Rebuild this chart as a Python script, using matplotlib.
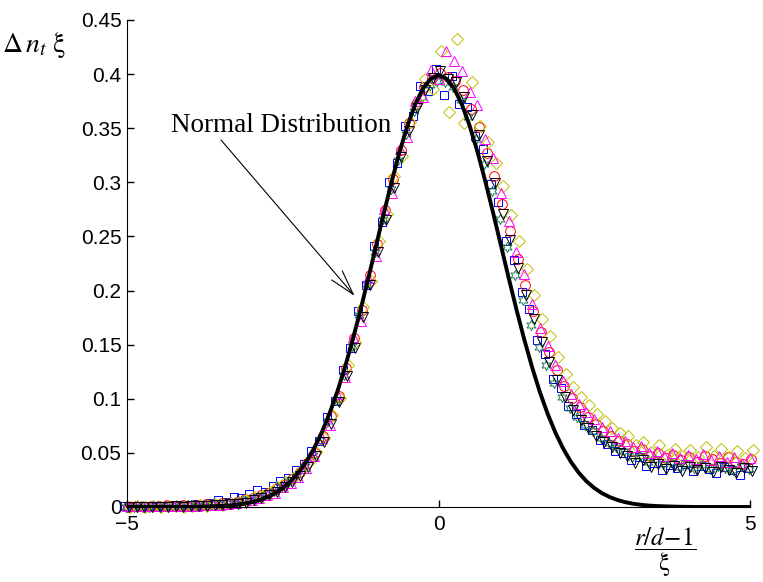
import numpy as np
import matplotlib
matplotlib.use("Agg")
import matplotlib.pyplot as plt

plt.rcParams['mathtext.fontset'] = 'stix'

# bin centres (r/d-1)/xi shared by the data sets
x_bins = [-5.0, -4.875, -4.75, -4.625, -4.5, -4.375, -4.25, -4.125,
          -4.0, -3.875, -3.75, -3.625, -3.5, -3.375, -3.25, -3.125,
          -3.0, -2.875, -2.75, -2.625, -2.5, -2.375, -2.25, -2.125,
          -2.0, -1.875, -1.75, -1.625, -1.5, -1.375, -1.25, -1.125,
          -1.0, -0.875, -0.75, -0.625, -0.5, -0.375, -0.25, -0.125,
          0.0, 0.125, 0.25, 0.375, 0.5, 0.625, 0.75, 0.875,
          1.0, 1.125, 1.25, 1.375, 1.5, 1.625, 1.75, 1.875,
          2.0, 2.125, 2.25, 2.375, 2.5, 2.625, 2.75, 2.875,
          3.0, 3.125, 3.25, 3.375, 3.5, 3.625, 3.75, 3.875,
          4.0, 4.125, 4.25, 4.375, 4.5, 4.625, 4.75, 4.875, 5.0]

y_blue = [0.001, 0.000, 0.001, 0.001, 0.000, 0.001, 0.002, 0.001,
          0.002, 0.003, 0.002, 0.004, 0.006, 0.005, 0.009, 0.008,
          0.012, 0.016, 0.014, 0.019, 0.024, 0.027, 0.034, 0.040,
          0.052, 0.061, 0.083, 0.098, 0.127, 0.147, 0.181, 0.205,
          0.241, 0.263, 0.300, 0.318, 0.352, 0.361, 0.389, 0.384,
          0.405, 0.381, 0.398, 0.372, 0.370, 0.343, 0.331, 0.298,
          0.282, 0.246, 0.228, 0.199, 0.183, 0.154, 0.141, 0.118,
          0.110, 0.093, 0.086, 0.076, 0.071, 0.062, 0.058, 0.052,
          0.050, 0.043, 0.046, 0.038, 0.041, 0.034, 0.039, 0.036,
          0.040, 0.033, 0.038, 0.035, 0.031, 0.037, 0.034, 0.030, 0.036]

y_red = [0.000, 0.001, 0.000, 0.001, 0.001, 0.002, 0.001, 0.002,
         0.001, 0.002, 0.003, 0.002, 0.004, 0.003, 0.005, 0.007,
         0.008, 0.011, 0.013, 0.017, 0.020, 0.026, 0.032, 0.041,
         0.050, 0.066, 0.084, 0.103, 0.128, 0.156, 0.182, 0.214,
         0.243, 0.274, 0.303, 0.330, 0.355, 0.372, 0.388, 0.396,
         0.401, 0.397, 0.394, 0.385, 0.368, 0.351, 0.327, 0.306,
         0.280, 0.255, 0.229, 0.205, 0.181, 0.162, 0.143, 0.127,
         0.112, 0.101, 0.092, 0.083, 0.077, 0.070, 0.066, 0.061,
         0.058, 0.052, 0.054, 0.047, 0.050, 0.045, 0.048, 0.043,
         0.046, 0.042, 0.047, 0.044, 0.041, 0.046, 0.042, 0.040, 0.044]

y_green = [0.000, 0.000, 0.001, 0.000, 0.001, 0.001, 0.001, 0.001,
           0.002, 0.001, 0.002, 0.003, 0.003, 0.004, 0.004, 0.006,
           0.007, 0.009, 0.012, 0.015, 0.019, 0.024, 0.030, 0.038,
           0.048, 0.062, 0.079, 0.099, 0.122, 0.149, 0.177, 0.206,
           0.236, 0.266, 0.294, 0.321, 0.345, 0.366, 0.379, 0.390,
           0.394, 0.393, 0.388, 0.376, 0.360, 0.340, 0.317, 0.292,
           0.266, 0.240, 0.214, 0.191, 0.168, 0.148, 0.131, 0.115,
           0.102, 0.091, 0.083, 0.076, 0.070, 0.064, 0.059, 0.055,
           0.052, 0.046, 0.047, 0.042, 0.044, 0.040, 0.042, 0.037,
           0.040, 0.036, 0.039, 0.035, 0.038, 0.036, 0.034, 0.038, 0.035]

y_magenta = [0.001, 0.001, 0.001, 0.001, 0.001, 0.001, 0.001, 0.001,
             0.001, 0.001, 0.002, 0.002, 0.002, 0.003, 0.004, 0.005,
             0.006, 0.008, 0.011, 0.013, 0.018, 0.022, 0.028, 0.036,
             0.047, 0.064, 0.076, 0.104, 0.120, 0.157, 0.172, 0.212,
             0.232, 0.275, 0.290, 0.331, 0.342, 0.375, 0.379, 0.404,
             0.395, 0.421, 0.412, 0.403, 0.383, 0.371, 0.340, 0.322,
             0.290, 0.264, 0.236, 0.215, 0.188, 0.165, 0.149, 0.131,
             0.116, 0.104, 0.095, 0.088, 0.081, 0.074, 0.070, 0.064,
             0.061, 0.055, 0.056, 0.050, 0.052, 0.047, 0.050, 0.045,
             0.048, 0.044, 0.049, 0.043, 0.047, 0.042, 0.046, 0.041, 0.045]

y_olive = [0.000, 0.001, 0.000, 0.001, 0.000, 0.001, 0.001, 0.000,
           0.001, 0.002, 0.001, 0.003, 0.002, 0.004, 0.005, 0.006,
           0.009, 0.010, 0.014, 0.018, 0.023, 0.027, 0.033, 0.042,
           0.051, 0.064, 0.085, 0.101, 0.131, 0.152, 0.185, 0.209,
           0.246, 0.271, 0.306, 0.324, 0.356, 0.374, 0.395, 0.386,
           0.421, 0.365, 0.432, 0.355, 0.393, 0.352, 0.337, 0.318,
           0.297, 0.270, 0.246, 0.220, 0.196, 0.174, 0.158, 0.139,
           0.123, 0.111, 0.102, 0.094, 0.086, 0.079, 0.073, 0.068,
           0.066, 0.057, 0.060, 0.051, 0.057, 0.048, 0.054, 0.047,
           0.053, 0.046, 0.055, 0.047, 0.054, 0.046, 0.052, 0.045, 0.053]

y_black = [0.000, 0.000, 0.000, 0.000, 0.000, 0.000, 0.001, 0.000,
           0.001, 0.001, 0.001, 0.002, 0.002, 0.003, 0.003, 0.004,
           0.006, 0.008, 0.011, 0.014, 0.018, 0.023, 0.029, 0.037,
           0.047, 0.060, 0.077, 0.097, 0.121, 0.147, 0.176, 0.205,
           0.236, 0.265, 0.295, 0.323, 0.347, 0.369, 0.385, 0.396,
           0.403, 0.395, 0.393, 0.379, 0.362, 0.344, 0.320, 0.299,
           0.271, 0.247, 0.221, 0.196, 0.174, 0.152, 0.134, 0.117,
           0.102, 0.090, 0.080, 0.073, 0.066, 0.060, 0.055, 0.050,
           0.047, 0.041, 0.043, 0.037, 0.040, 0.035, 0.038, 0.033,
           0.037, 0.034, 0.036, 0.032, 0.037, 0.034, 0.031, 0.036, 0.033]

# each data set sits on slightly different bin centres
bin_offsets = {'blue': -0.04, 'red': 0.02, 'green': -0.02,
               'olive': 0.04, 'magenta': 0.0, 'black': 0.03}

# standard normal density, read on the same bins
y_normal = [0.0000, 0.0000, 0.0000, 0.0000, 0.0000, 0.0000, 0.0000, 0.0000,
            0.0001, 0.0002, 0.0004, 0.0006, 0.0009, 0.0013, 0.0020, 0.0030,
            0.0044, 0.0064, 0.0091, 0.0127, 0.0175, 0.0237, 0.0317, 0.0417,
            0.0540, 0.0688, 0.0863, 0.1065, 0.1295, 0.1550, 0.1826, 0.2119,
            0.2420, 0.2721, 0.3011, 0.3282, 0.3521, 0.3719, 0.3867, 0.3958,
            0.3989, 0.3958, 0.3867, 0.3719, 0.3521, 0.3282, 0.3011, 0.2721,
            0.2420, 0.2119, 0.1826, 0.1550, 0.1295, 0.1065, 0.0863, 0.0688,
            0.0540, 0.0417, 0.0317, 0.0237, 0.0175, 0.0127, 0.0091, 0.0064,
            0.0044, 0.0030, 0.0020, 0.0013, 0.0009, 0.0006, 0.0004, 0.0002,
            0.0001, 0.0000, 0.0000, 0.0000, 0.0000, 0.0000, 0.0000, 0.0000, 0.0000]

yticks = [0, 0.05, 0.1, 0.15, 0.2, 0.25, 0.3, 0.35, 0.4, 0.45]
yticklabels = ['0', '0.05', '0.1', '0.15', '0.2', '0.25', '0.3', '0.35', '0.4', '0.45']
xticks = [-5, 0, 5]

fig = plt.figure(figsize=(7.63, 5.82), dpi=100)
ax = fig.add_axes([0.1665, 0.1289, 0.8165, 0.8368])

xb = np.array(x_bins)
series = [
    ('blue', y_blue, 's', '#0000ff', 6),
    ('red', y_red, 'o', '#ff0000', 7),
    ('green', y_green, (6, 1, 0), '#1f7f4f', 7.5),
    ('olive', y_olive, 'D', '#bfbf00', 6),
    ('magenta', y_magenta, '^', '#ff00ff', 7.5),
    ('black', y_black, 'v', '#000000', 7.5),
]
for name, ys, mk, col, ms in series:
    ax.plot(xb + bin_offsets[name], ys, linestyle='none', marker=mk,
            markersize=ms, markerfacecolor='none', markeredgecolor=col,
            markeredgewidth=0.7, clip_on=False)

ax.plot(x_bins, y_normal, color='black', lw=2.8, zorder=5)

ax.set_xlim(-5, 5)
ax.set_ylim(0, 0.45)
ax.set_xticks(xticks)
ax.set_yticks(yticks)
ax.set_yticklabels(yticklabels)
for s in ['top', 'right']:
    ax.spines[s].set_visible(False)
ax.tick_params(direction='in', length=5, width=1, labelsize=15, pad=4)
ax.tick_params(axis='x', pad=6)
for lab in ax.get_xticklabels() + ax.get_yticklabels():
    lab.set_family('Liberation Sans')

ax.text(-4.29, 0.3466, 'Normal Distribution', family='Liberation Serif',
        fontsize=19.5, ha='left', va='baseline')
ax.annotate('', xy=(-1.318, 0.193), xytext=(-3.52, 0.341),
            arrowprops=dict(arrowstyle='->,head_length=0.9,head_width=0.25',
                            color='black', lw=0.8, mutation_scale=20),
            zorder=6)

fig.text(0.003, 0.911, r'$\Delta\, n_t\ \mathrm{\xi}$', fontsize=20,
         ha='left', va='baseline')
fig.text(0.872, 0.052, r'$\dfrac{r/d\!-\!\mathit{1}}{\mathrm{\xi}}$', fontsize=18,
         ha='center', va='center')

fig.savefig('out.png', dpi=100)
